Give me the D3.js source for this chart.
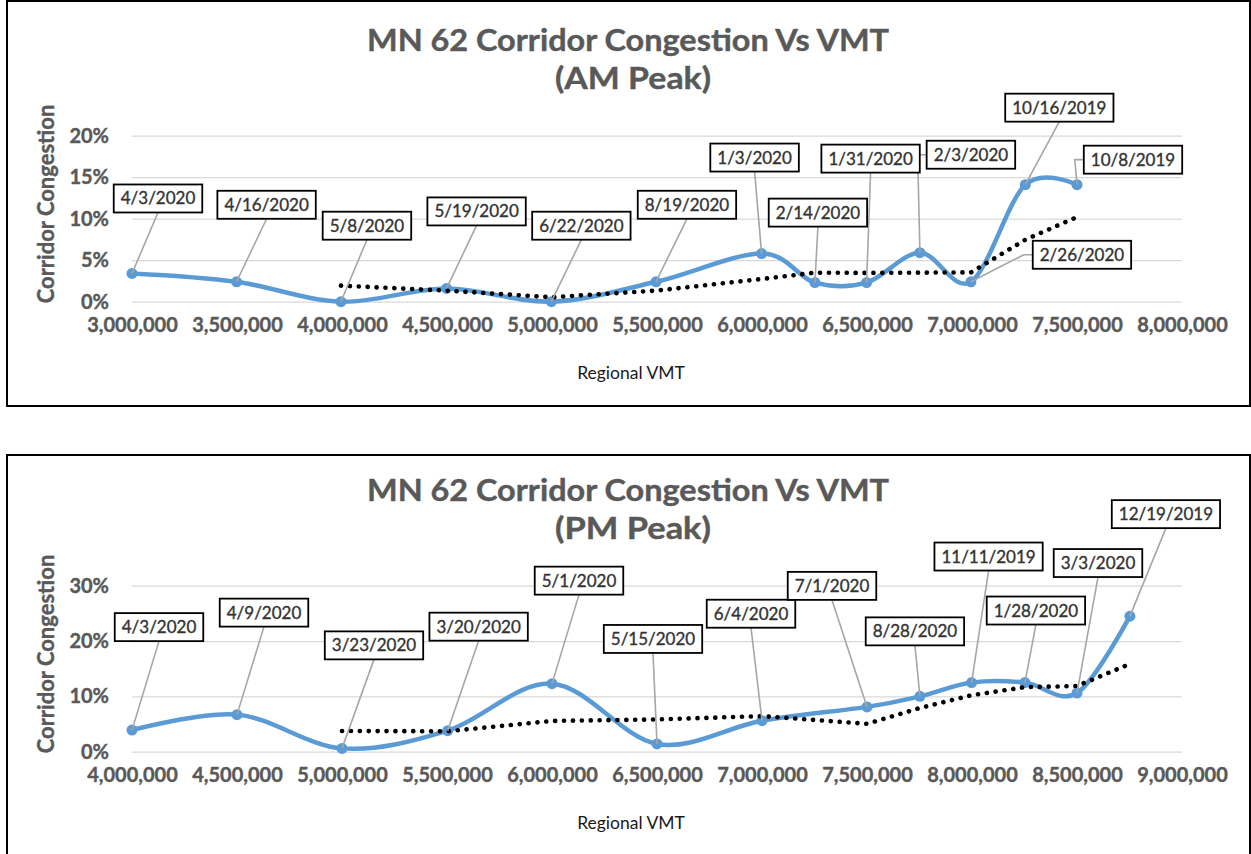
<!DOCTYPE html>
<html>
<head>
<meta charset="utf-8">
<script src="https://cdn.jsdelivr.net/npm/d3@7"></script>
<style>
  html, body { margin: 0; padding: 0; background: #fff; }
  svg { display: block; }
</style>
</head>
<body>
<svg id="chart" width="1251" height="854"></svg>
<script>
// ---- AM peak ----
const amDates = ["4/3/2020", "4/16/2020", "5/8/2020", "5/19/2020", "6/22/2020", "8/19/2020",
  "1/3/2020", "2/14/2020", "1/31/2020", "2/3/2020", "2/26/2020", "10/16/2019", "10/8/2019"];
const amVmt = [3000000, 3498000, 3995000, 4498000, 4997000, 5495000,
  5998000, 6252000, 6498000, 6752000, 6995000, 7254000, 7500000];
const amCongestion = [0.034, 0.024, 0.000, 0.016, 0.000, 0.024,
  0.058, 0.023, 0.023, 0.059, 0.024, 0.141, 0.141];
const amVmtTicks = [3000000, 3500000, 4000000, 4500000, 5000000, 5500000,
  6000000, 6500000, 7000000, 7500000, 8000000];
const amCongTicks = [0, 0.05, 0.10, 0.15, 0.20];

// ---- PM peak ----
const pmDates = ["4/3/2020", "4/9/2020", "3/23/2020", "3/20/2020", "5/1/2020", "5/15/2020",
  "6/4/2020", "7/1/2020", "8/28/2020", "11/11/2019", "1/28/2020", "3/3/2020", "12/19/2019"];
const pmVmt = [4000000, 4500000, 5000000, 5503000, 6000000, 6500000,
  7000000, 7500000, 7752000, 7998000, 8252000, 8500000, 8752000];
const pmCongestion = [0.039, 0.067, 0.006, 0.038, 0.123, 0.014,
  0.056, 0.081, 0.100, 0.125, 0.125, 0.106, 0.245];
const pmVmtTicks = [4000000, 4500000, 5000000, 5500000, 6000000, 6500000,
  7000000, 7500000, 8000000, 8500000, 9000000];
const pmCongTicks = [0, 0.10, 0.20, 0.30];

// Moving-average trendline period
const trendPeriod = 3;

// Callout placement: box centre offset from its point (px); "side" boxes hang a
// short horizontal stub off their left edge instead of a leader from the bottom.
const amCallouts = [
  { dx: 26, dy: -75 }, { dx: 30, dy: -77 }, { dx: 26, dy: -76 }, { dx: 30, dy: -77 },
  { dx: 30, dy: -76 }, { dx: 31, dy: -77 }, { dx: -7, dy: -96 }, { dx: 3, dy: -70 },
  { dx: 4, dy: -124 }, { dx: 51, dy: -98, side: true }, { dx: 111, dy: -27, side: true },
  { dx: 34, dy: -77 }, { dx: 56, dy: -25, side: true }
];
const pmCallouts = [
  { dx: 27, dy: -103 }, { dx: 27, dy: -102 }, { dx: 32, dy: -103 }, { dx: 31, dy: -104 },
  { dx: 27, dy: -103 }, { dx: -4, dy: -105 }, { dx: -11, dy: -107 }, { dx: -35, dy: -121 },
  { dx: -5, dy: -65 }, { dx: 17, dy: -126 }, { dx: 11, dy: -72 }, { dx: 21, dy: -130 },
  { dx: 36, dy: -102 }
];

const svg = d3.select("#chart");
const FONT = "Lato, 'Open Sans', sans-serif";
const BLUE = "#5b9bd5";
const GREY_TEXT = "#595959";

function drawPanel(opts) {
  const g = svg.append("g").attr("transform", `translate(0,${opts.top})`);

  // frame
  g.append("rect")
    .attr("x", 7).attr("y", opts.frameY)
    .attr("width", 1243).attr("height", opts.frameHeight)
    .attr("fill", "#fff").attr("stroke", "#000").attr("stroke-width", 2);

  const x = d3.scaleLinear().domain(d3.extent(opts.xTicks)).range([132, 1182]);
  const y = d3.scaleLinear().domain(d3.extent(opts.yTicks)).range([301.7, 135.7]);

  // two-line title
  const titleStyle = sel => sel
    .attr("font-family", FONT).attr("font-weight", 700)
    .attr("font-size", 29.5).attr("fill", GREY_TEXT)
    .attr("stroke", GREY_TEXT).attr("stroke-width", 0.4)
    .attr("text-anchor", "middle").attr("lengthAdjust", "spacingAndGlyphs");
  g.append("text").call(titleStyle)
    .attr("x", 628).attr("y", 51).attr("textLength", 522)
    .text("MN 62 Corridor Congestion Vs VMT");
  g.append("text").call(titleStyle)
    .attr("x", 633).attr("y", 89).attr("textLength", 156)
    .text(opts.subtitle);

  // gridlines + y tick labels
  const yAxis = g.append("g")
    .attr("transform", "translate(132,0)")
    .call(d3.axisLeft(y).tickValues(opts.yTicks).tickFormat(d3.format(".0%"))
      .tickSize(-1050).tickPadding(23));
  yAxis.select(".domain").remove();
  yAxis.selectAll(".tick line").attr("stroke", "#d9d9d9").attr("stroke-width", 1.3);
  yAxis.selectAll(".tick text")
    .attr("font-family", FONT).attr("font-weight", 700).attr("font-size", 20)
    .attr("fill", GREY_TEXT).attr("stroke", GREY_TEXT).attr("stroke-width", 0.4);

  // x tick labels
  const xAxis = g.append("g")
    .attr("transform", "translate(0,301.7)")
    .call(d3.axisBottom(x).tickValues(opts.xTicks).tickFormat(d3.format(","))
      .tickSize(0).tickPadding(16));
  xAxis.select(".domain").remove();
  xAxis.selectAll(".tick text")
    .attr("font-family", FONT).attr("font-weight", 700).attr("font-size", 20)
    .attr("fill", GREY_TEXT).attr("stroke", GREY_TEXT).attr("stroke-width", 0.4);

  // axis titles
  g.append("text")
    .attr("transform", "translate(54,204) rotate(-90)")
    .attr("text-anchor", "middle")
    .attr("font-family", FONT).attr("font-weight", 700).attr("font-size", 22)
    .attr("fill", GREY_TEXT).attr("stroke", GREY_TEXT).attr("stroke-width", 0.4)
    .text("Corridor Congestion");
  g.append("text")
    .attr("x", 631).attr("y", 379)
    .attr("text-anchor", "middle")
    .attr("font-family", FONT).attr("font-size", 17.5).attr("fill", "#1a1a1a")
    .text("Regional VMT");

  const pts = opts.vmt.map((v, i) => ({ v, c: opts.cong[i], date: opts.dates[i], lab: opts.callouts[i] }));

  // smoothed series line
  const line = d3.line().x(d => x(d.v)).y(d => y(d.c)).curve(d3.curveCardinal.tension(0));
  g.append("path").datum(pts)
    .attr("d", line)
    .attr("fill", "none").attr("stroke", BLUE).attr("stroke-width", 4.5)
    .attr("stroke-linejoin", "round").attr("stroke-linecap", "round");

  g.append("g").selectAll("circle").data(pts).join("circle")
    .attr("cx", d => x(d.v)).attr("cy", d => y(d.c)).attr("r", 5.5)
    .attr("fill", BLUE);

  // moving-average trendline
  const trend = pts.slice(trendPeriod - 1).map((d, i) => ({
    v: d.v,
    c: d3.mean(pts.slice(i, i + trendPeriod), p => p.c)
  }));
  g.append("path").datum(trend)
    .attr("d", d3.line().x(d => x(d.v)).y(d => y(d.c)))
    .attr("fill", "none").attr("stroke", "#000").attr("stroke-width", 4.6)
    .attr("stroke-dasharray", "0.1 8.8").attr("stroke-linecap", "round");

  // callouts
  const cg = g.append("g");
  const leaders = cg.append("g");
  const boxes = cg.append("g");
  pts.forEach(d => {
    const px = x(d.v), py = y(d.c);
    const cx = px + d.lab.dx, cy = py + d.lab.dy;
    const box = boxes.append("g");
    const rect = box.append("rect");
    const t = box.append("text")
      .attr("x", cx).attr("y", cy + 6)
      .attr("text-anchor", "middle")
      .attr("font-family", FONT).attr("font-size", 17).attr("fill", "#333")
      .attr("stroke", "#333").attr("stroke-width", 0.35)
      .text(d.date);
    const w = t.node().getComputedTextLength() + 14, h = 28;
    rect.attr("x", cx - w / 2).attr("y", cy - h / 2).attr("width", w).attr("height", h)
      .attr("fill", "#fff").attr("stroke", "#000").attr("stroke-width", 1.8);
    let path;
    if (d.lab.side) {
      const lx = cx - w / 2;
      path = `M${lx},${cy}H${lx - 9}L${px},${py}`;
    } else {
      path = `M${cx},${cy + h / 2}L${px},${py}`;
    }
    leaders.append("path").attr("d", path)
      .attr("fill", "none").attr("stroke", "#a6a6a6").attr("stroke-width", 1.6);
  });
}

drawPanel({
  top: 0, frameY: 1, frameHeight: 405, subtitle: "(AM Peak)",
  dates: amDates, vmt: amVmt, cong: amCongestion,
  xTicks: amVmtTicks, yTicks: amCongTicks, callouts: amCallouts
});
drawPanel({
  top: 450, frameY: 5, frameHeight: 420, subtitle: "(PM Peak)",
  dates: pmDates, vmt: pmVmt, cong: pmCongestion,
  xTicks: pmVmtTicks, yTicks: pmCongTicks, callouts: pmCallouts
});
</script>
</body>
</html>
